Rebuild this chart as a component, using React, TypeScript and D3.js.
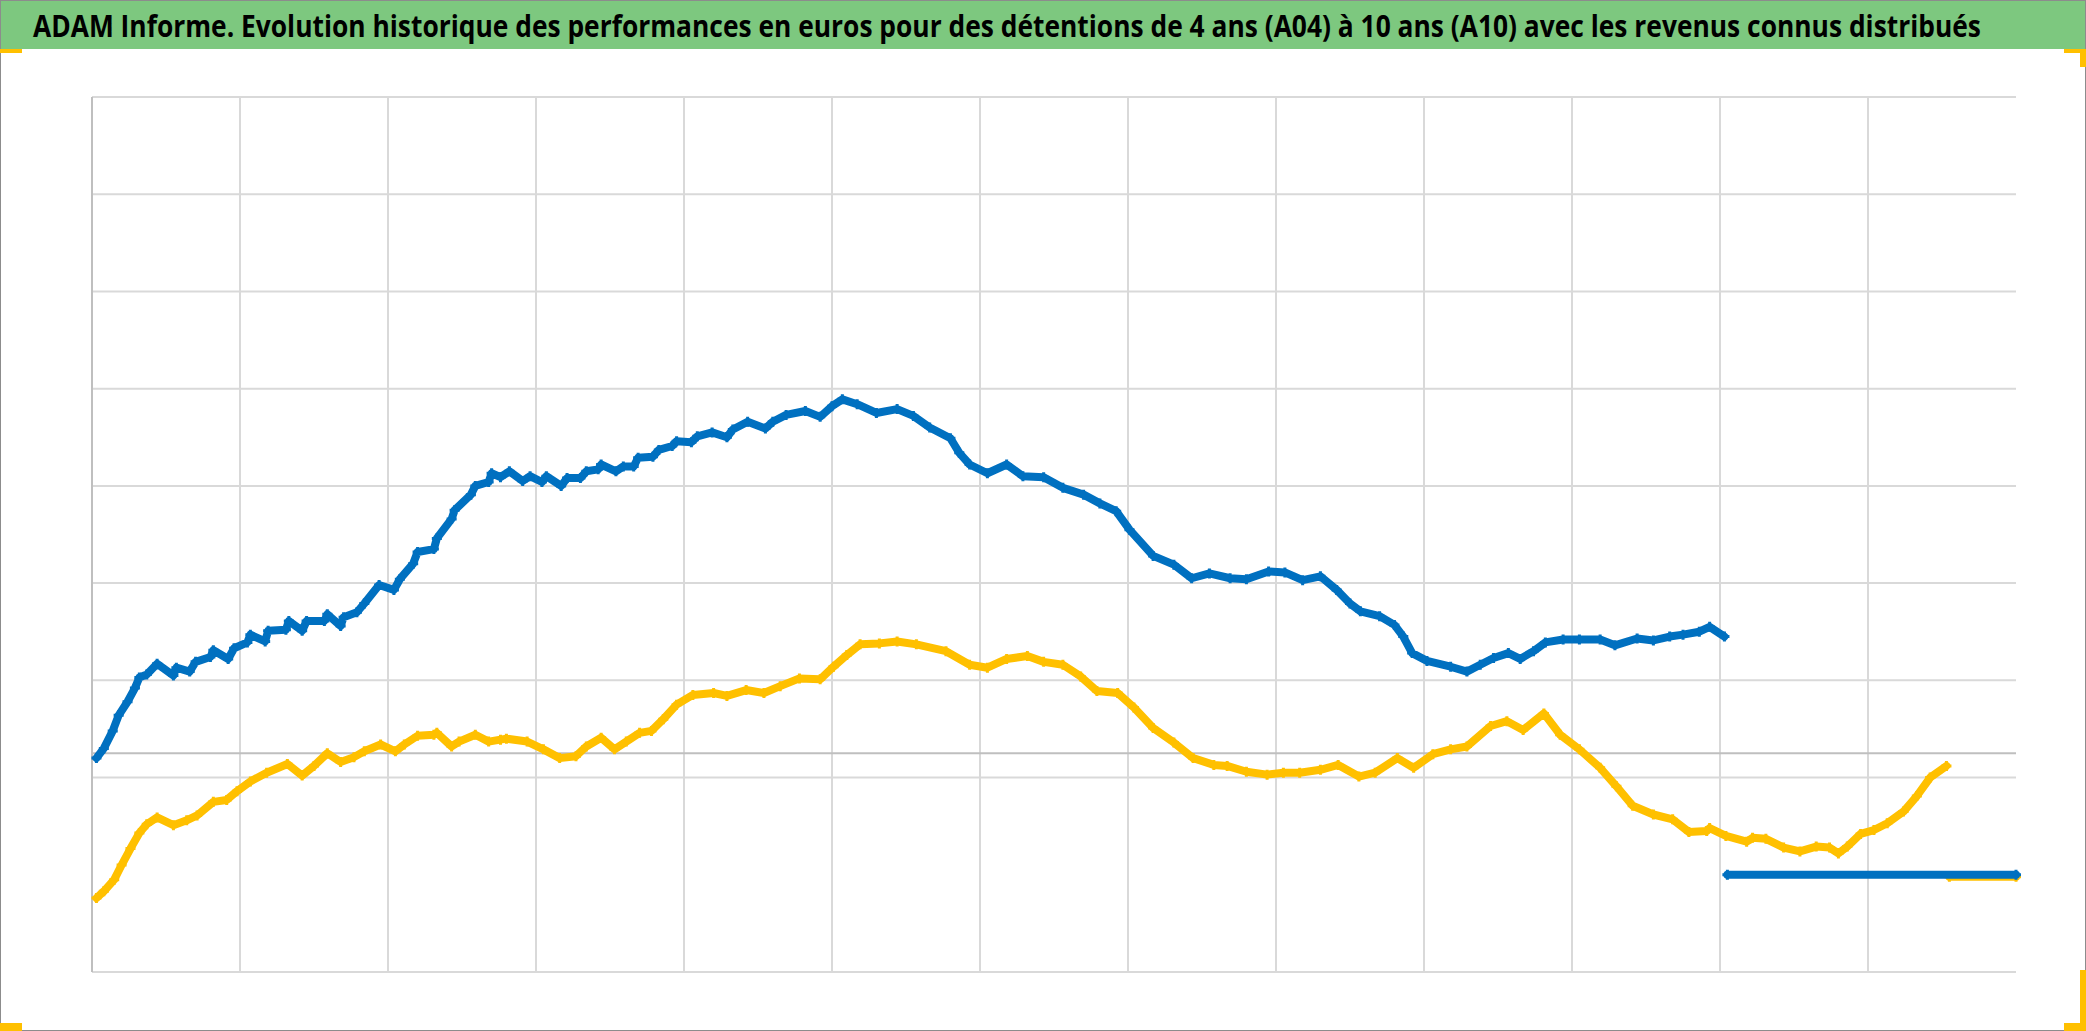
import React, { useLayoutEffect, useRef, useState } from "react";
import * as d3 from "d3";

const TITLE = "ADAM Informe. Evolution historique des performances en euros pour des détentions de 4 ans (A04) à 10 ans (A10) avec les revenus connus distribués";

// x in grid periods (0..13), y in grid units (0..9)
const xGrid = [1, 2, 3, 4, 5, 6, 7, 8, 9, 10, 11, 12];
const yGrid = [2, 3, 4, 5, 6, 7, 8, 9];
const axisCross = 2.25;

const blueT = [0.03,0.08,0.14,0.18,0.24,0.29,0.32,0.37,0.44,0.55,0.57,0.66,0.70,0.80,0.82,0.92,0.96,1.05,1.07,1.17,1.19,1.31,1.33,1.42,1.45,1.57,1.59,1.68,1.70,1.79,1.84,1.94,2.04,2.08,2.17,2.20,2.31,2.33,2.43,2.45,2.56,2.59,2.68,2.70,2.76,2.82,2.91,2.96,3.04,3.07,3.17,3.21,3.30,3.34,3.42,3.44,3.54,3.59,3.66,3.69,3.79,3.83,3.92,3.95,4.05,4.09,4.19,4.29,4.33,4.43,4.55,4.60,4.69,4.82,4.92,5.00,5.07,5.17,5.30,5.44,5.55,5.66,5.80,5.86,5.93,6.05,6.18,6.29,6.43,6.56,6.70,6.81,6.92,7.01,7.17,7.31,7.43,7.55,7.69,7.80,7.95,8.06,8.18,8.30,8.41,8.50,8.57,8.70,8.80,8.86,8.92,9.02,9.18,9.29,9.38,9.47,9.57,9.65,9.74,9.82,9.94,10.05,10.19,10.29,10.44,10.55,10.66,10.75,10.86,10.93,11.03];
const blueV = [2.20,2.30,2.48,2.64,2.78,2.92,3.03,3.06,3.17,3.05,3.13,3.09,3.19,3.24,3.31,3.22,3.33,3.39,3.47,3.40,3.51,3.52,3.61,3.51,3.61,3.61,3.68,3.56,3.65,3.70,3.79,3.98,3.93,4.04,4.20,4.32,4.35,4.46,4.66,4.75,4.91,5.00,5.04,5.13,5.09,5.15,5.05,5.10,5.04,5.10,5.00,5.08,5.08,5.15,5.17,5.22,5.15,5.20,5.20,5.29,5.30,5.37,5.41,5.46,5.45,5.51,5.55,5.50,5.58,5.66,5.59,5.66,5.73,5.77,5.71,5.82,5.89,5.84,5.75,5.79,5.72,5.60,5.49,5.34,5.22,5.13,5.22,5.10,5.09,4.98,4.91,4.82,4.74,4.55,4.28,4.19,4.05,4.10,4.05,4.04,4.12,4.11,4.03,4.07,3.93,3.79,3.71,3.66,3.57,3.45,3.28,3.20,3.14,3.09,3.16,3.23,3.28,3.22,3.30,3.39,3.42,3.42,3.42,3.36,3.43,3.41,3.45,3.47,3.50,3.55,3.45];

const yellowT = [0.03,0.08,0.15,0.20,0.26,0.32,0.37,0.44,0.55,0.64,0.71,0.82,0.91,0.98,1.07,1.18,1.32,1.42,1.50,1.59,1.68,1.77,1.84,1.95,2.05,2.11,2.20,2.31,2.33,2.43,2.48,2.59,2.68,2.76,2.80,2.94,3.05,3.16,3.27,3.34,3.44,3.53,3.61,3.70,3.78,3.86,3.95,4.06,4.20,4.29,4.42,4.54,4.65,4.78,4.92,5.01,5.10,5.19,5.32,5.44,5.57,5.77,5.93,6.05,6.18,6.32,6.43,6.56,6.68,6.79,6.93,7.04,7.17,7.31,7.44,7.58,7.67,7.80,7.94,8.05,8.16,8.30,8.42,8.56,8.67,8.82,8.93,9.06,9.18,9.29,9.45,9.56,9.67,9.81,9.92,10.05,10.19,10.30,10.41,10.55,10.68,10.79,10.91,10.93,11.04,11.18,11.22,11.31,11.43,11.54,11.65,11.74,11.80,11.86,11.95,12.04,12.13,12.24,12.33,12.42,12.53];
const yellowV = [0.76,0.83,0.95,1.10,1.27,1.43,1.52,1.59,1.51,1.56,1.61,1.75,1.77,1.86,1.96,2.05,2.14,2.02,2.12,2.25,2.16,2.21,2.27,2.34,2.27,2.34,2.43,2.44,2.46,2.32,2.37,2.44,2.37,2.39,2.40,2.37,2.29,2.20,2.22,2.32,2.41,2.29,2.37,2.46,2.48,2.60,2.75,2.85,2.87,2.84,2.90,2.87,2.94,3.02,3.01,3.14,3.26,3.37,3.38,3.40,3.37,3.30,3.16,3.13,3.22,3.25,3.19,3.16,3.04,2.89,2.87,2.72,2.51,2.36,2.20,2.13,2.12,2.06,2.03,2.05,2.05,2.08,2.13,2.01,2.05,2.20,2.10,2.24,2.29,2.32,2.53,2.58,2.49,2.66,2.44,2.29,2.10,1.91,1.71,1.62,1.57,1.44,1.45,1.48,1.40,1.34,1.38,1.37,1.28,1.24,1.29,1.28,1.22,1.29,1.42,1.46,1.53,1.65,1.81,2.00,2.12];

// flat tails (start/end period, value)
const blueTailT = [11.05, 13.0];
const blueTailV = [1.0, 1.0];
const yellowTailT = [12.55, 13.0];
const yellowTailV = [0.98, 0.98];

const W = 2086;
const H = 1031;
const TITLE_W = 1948;

export default function App() {
  const x = d3.scaleLinear().domain([0, 13]).range([92, 2016]);
  const y = d3.scaleLinear().domain([0, 9]).range([972, 97]);

  const titleRef = useRef<SVGTextElement>(null);
  const [sx, setSx] = useState(0.85);
  useLayoutEffect(() => {
    const el = titleRef.current;
    if (el) {
      const w = el.getComputedTextLength();
      if (w > 0) setSx(TITLE_W / w);
    }
  }, []);

  const line = d3
    .line<[number, number]>()
    .x((d) => x(d[0]))
    .y((d) => y(d[1]));

  const blue: [number, number][] = blueT.map((t, i) => [t, blueV[i]]);
  const yellow: [number, number][] = yellowT.map((t, i) => [t, yellowV[i]]);
  const blueTail: [number, number][] = blueTailT.map((t, i) => [t, blueTailV[i]]);
  const yellowTail: [number, number][] = yellowTailT.map((t, i) => [t, yellowTailV[i]]);

  const BLUE = "#0070C0";
  const YEL = "#FFC000";
  const plus = "M-5,0H5M0,-5V5";

  const series = (pts: [number, number][], tail: [number, number][], color: string) => (
    <g>
      <path d={line(pts) || ""} fill="none" stroke={color} strokeWidth={8} strokeLinejoin="round" strokeLinecap="round" />
      {pts.map((d, i) => (
        <path key={i} d={plus} transform={`translate(${x(d[0])},${y(d[1])})`} stroke={color} strokeWidth={3} />
      ))}
      <path d={line(tail) || ""} fill="none" stroke={color} strokeWidth={8} strokeLinecap="round" />
      {tail.map((d, i) => (
        <path key={"t" + i} d={plus} transform={`translate(${x(d[0])},${y(d[1])})`} stroke={color} strokeWidth={3} />
      ))}
    </g>
  );

  return (
    <svg
      width={W}
      height={H}
      style={{ position: "absolute", left: 0, top: 0, background: "#fff" }}
    >
      <rect x={0} y={0} width={W} height={H} fill="#ffffff" />
      {/* title band */}
      <rect x={0} y={0} width={W} height={49} fill="#7DC87F" />
      <g transform={`translate(33,37) scale(${sx},1)`}>
        <text
          ref={titleRef}
          x={0}
          y={0}
          fontFamily="'Liberation Sans Narrow', 'Open Sans', sans-serif"
          fontWeight="bold"
          fontSize={30}
          fill="#000"
        >
          {TITLE}
        </text>
      </g>

      {/* gridlines */}
      {yGrid.map((v) => (
        <line key={"h" + v} x1={x(0)} x2={x(13)} y1={y(v)} y2={y(v)} stroke="#D9D9D9" strokeWidth={2} />
      ))}
      <line x1={x(0)} x2={x(13)} y1={y(0)} y2={y(0)} stroke="#D9D9D9" strokeWidth={2} />
      {xGrid.map((t) => (
        <line key={"v" + t} x1={x(t)} x2={x(t)} y1={y(9)} y2={y(0)} stroke="#D9D9D9" strokeWidth={2} />
      ))}
      {/* axes */}
      <line x1={x(0)} x2={x(0)} y1={y(9)} y2={y(0)} stroke="#BFBFBF" strokeWidth={2} />
      <line x1={x(0)} x2={x(13)} y1={y(axisCross)} y2={y(axisCross)} stroke="#BFBFBF" strokeWidth={2} />

      {series(yellow, yellowTail, YEL)}
      {series(blue, blueTail, BLUE)}

      {/* chart border & selection handles */}
      <rect x={0.5} y={0.5} width={W - 1} height={H - 1} fill="none" stroke="#8C8C8C" strokeWidth={1} />
      <rect x={0} y={49} width={22} height={4} fill={YEL} />
      <rect x={0} y={1023} width={22} height={8} fill={YEL} />
      <rect x={2064} y={49} width={22} height={4} fill={YEL} />
      <rect x={2080} y={49} width={6} height={18} fill={YEL} />
      <rect x={2064} y={1023} width={22} height={8} fill={YEL} />
      <rect x={2080} y={970} width={6} height={61} fill={YEL} />
    </svg>
  );
}
